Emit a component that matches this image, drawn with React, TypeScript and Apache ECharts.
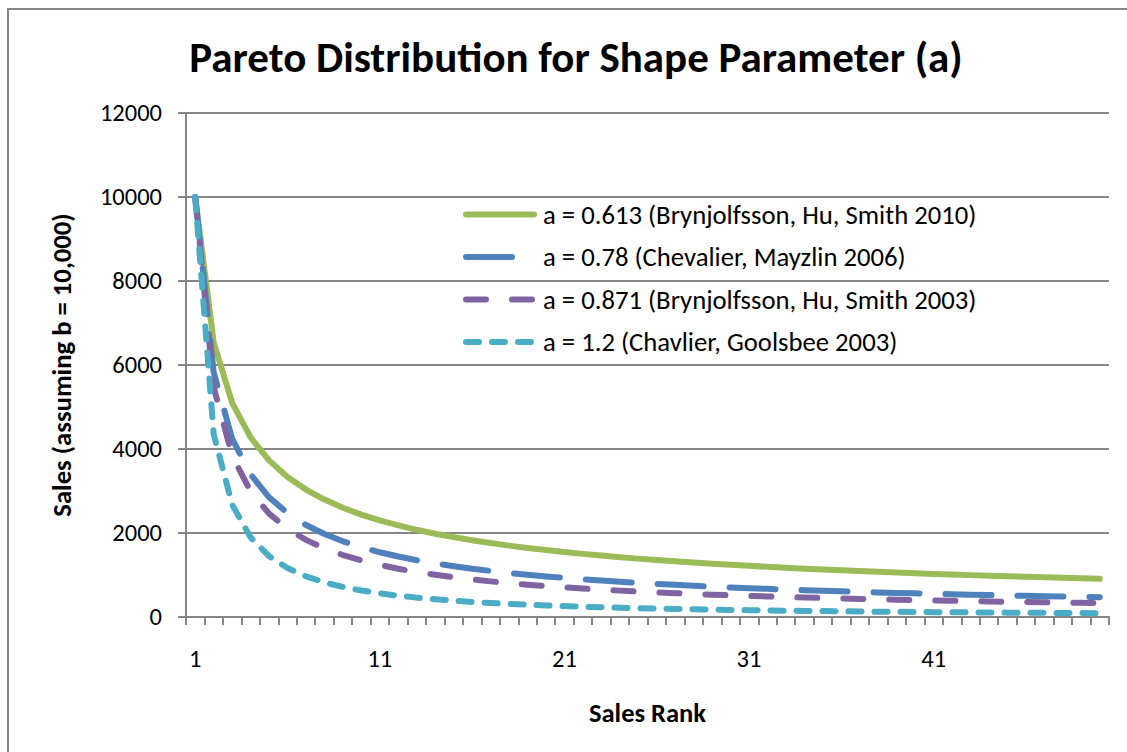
import { useEffect, useRef } from "react";
import * as echarts from "echarts";

// Sales rank categories (x axis)
const ranks = [
  "1", "2", "3", "4", "5", "6", "7", "8", "9", "10",
  "11", "12", "13", "14", "15", "16", "17", "18", "19", "20",
  "21", "22", "23", "24", "25", "26", "27", "28", "29", "30",
  "31", "32", "33", "34", "35", "36", "37", "38", "39", "40",
  "41", "42", "43", "44", "45", "46", "47", "48", "49", "50",
];

// Sales per rank, one array per shape parameter
const salesA0613 = [
  10000, 6538, 5100, 4275, 3729, 3334, 3034, 2795, 2600, 2438,
  2299, 2180, 2076, 1983, 1901, 1828, 1761, 1700, 1645, 1594,
  1547, 1503, 1463, 1425, 1390, 1357, 1326, 1297, 1269, 1243,
  1218, 1195, 1173, 1151, 1131, 1112, 1093, 1075, 1058, 1042,
  1026, 1011, 997, 983, 970, 957, 944, 932, 920, 909,
];
const salesA078 = [
  10000, 5824, 4245, 3392, 2850, 2472, 2192, 1975, 1802, 1660,
  1541, 1440, 1352, 1277, 1210, 1150, 1097, 1049, 1006, 966,
  930, 897, 867, 838, 812, 788, 765, 743, 723, 704,
  687, 670, 654, 639, 625, 611, 598, 586, 574, 563,
  552, 542, 532, 523, 513, 505, 496, 488, 480, 473,
];
const salesA0871 = [
  10000, 5468, 3841, 2990, 2461, 2100, 1836, 1635, 1475, 1346,
  1239, 1148, 1071, 1004, 945, 894, 848, 807, 769, 736,
  705, 677, 652, 628, 606, 586, 567, 549, 532, 517,
  502, 489, 476, 464, 452, 441, 431, 421, 411, 402,
  394, 386, 378, 370, 363, 356, 350, 343, 337, 331,
];
const salesA12 = [
  10000, 4353, 2676, 1895, 1450, 1165, 968, 825, 716, 631,
  563, 507, 461, 421, 388, 359, 334, 312, 292, 275,
  259, 245, 232, 221, 210, 200, 192, 183, 176, 169,
  162, 156, 151, 145, 140, 136, 131, 127, 123, 120,
  116, 113, 110, 107, 104, 101, 99, 96, 94, 91,
];

const seriesNames = [
  "a = 0.613 (Brynjolfsson, Hu, Smith 2010)",
  "a = 0.78 (Chevalier, Mayzlin 2006)",
  "a = 0.871 (Brynjolfsson, Hu, Smith 2003)",
  "a = 1.2 (Chavlier, Goolsbee 2003)",
];

const yTicks = { min: 0, max: 12000, step: 2000 };

const FONT = "Carlito, Lato, 'Open Sans', sans-serif";
const AXIS_GRAY = "#868686";

export default function App() {
  const ref = useRef<HTMLDivElement>(null);

  useEffect(() => {
    document.body.style.margin = "0";
    const chart = echarts.init(ref.current!, null, { renderer: "svg" });

    const line = (name: string, data: number[], color: string, dash: number[] | "solid") => ({
      name,
      type: "line",
      data,
      symbol: "none",
      showSymbol: false,
      smooth: false,
      lineStyle: { color, width: 6, type: dash, cap: "round", join: "round" },
      itemStyle: { color },
      emphasis: { disabled: true },
    });

    chart.setOption({
      animation: false,
      backgroundColor: "#ffffff",
      textStyle: { fontFamily: FONT },
      title: {
        text: "Pareto Distribution for Shape Parameter (a)",
        left: 576,
        top: 36,
        textAlign: "center",
        padding: 0,
        textStyle: { fontSize: 43, fontWeight: "bold", color: "#000", fontFamily: FONT },
      },
      graphic: [
        {
          type: "rect",
          shape: { x: 8, y: 9, width: 1300, height: 900 },
          style: { fill: "none", stroke: "#878787", lineWidth: 2 },
          silent: true,
        },
      ],
      grid: { left: 186, right: 18, top: 113, bottom: 135, containLabel: false },
      legend: {
        orient: "vertical",
        left: 463,
        top: 201,
        padding: 0,
        itemWidth: 68,
        itemHeight: 27,
        itemGap: 15.5,
        itemStyle: { opacity: 0 },
        lineStyle: { width: 6, cap: "round" },
        textStyle: { fontSize: 26.7, color: "#000", lineHeight: 27, padding: [0, 0, 0, 4], fontFamily: FONT },
        data: seriesNames,
      },
      xAxis: {
        type: "category",
        data: ranks,
        boundaryGap: true,
        name: "Sales Rank",
        nameLocation: "middle",
        nameGap: 82,
        nameTextStyle: { fontWeight: "bold", fontSize: 26.5, color: "#000", fontFamily: FONT },
        axisLine: { show: true, lineStyle: { color: AXIS_GRAY, width: 2 } },
        axisTick: { show: true, interval: 0, length: 8, lineStyle: { color: AXIS_GRAY, width: 2 } },
        axisLabel: { interval: 9, margin: 29, fontSize: 24.5, color: "#000", fontFamily: FONT },
        splitLine: { show: false },
      },
      yAxis: {
        type: "value",
        min: yTicks.min,
        max: yTicks.max,
        interval: yTicks.step,
        name: "Sales (assuming b = 10,000)",
        nameLocation: "middle",
        nameGap: 111,
        nameRotate: 90,
        nameTextStyle: { fontWeight: "bold", fontSize: 26.7, color: "#000", fontFamily: FONT },
        axisLine: { show: true, lineStyle: { color: AXIS_GRAY, width: 2 } },
        axisTick: { show: true, length: 8, lineStyle: { color: AXIS_GRAY, width: 2 } },
        axisLabel: {
          margin: 24,
          fontSize: 24.5,
          color: "#000",
          fontFamily: FONT,
          formatter: (v: number) => String(v),
        },
        splitLine: { show: true, lineStyle: { color: AXIS_GRAY, width: 2 } },
      },
      series: [
        line(seriesNames[0], salesA0613, "#9BBB59", "solid"),
        line(seriesNames[1], salesA078, "#4F81BD", [46, 26]),
        line(seriesNames[2], salesA0871, "#8064A2", [20, 26]),
        line(seriesNames[3], salesA12, "#4BACC6", [13, 13]),
      ],
    });

    return () => chart.dispose();
  }, []);

  return <div ref={ref} style={{ width: 1127, height: 752, background: "#fff" }} />;
}
